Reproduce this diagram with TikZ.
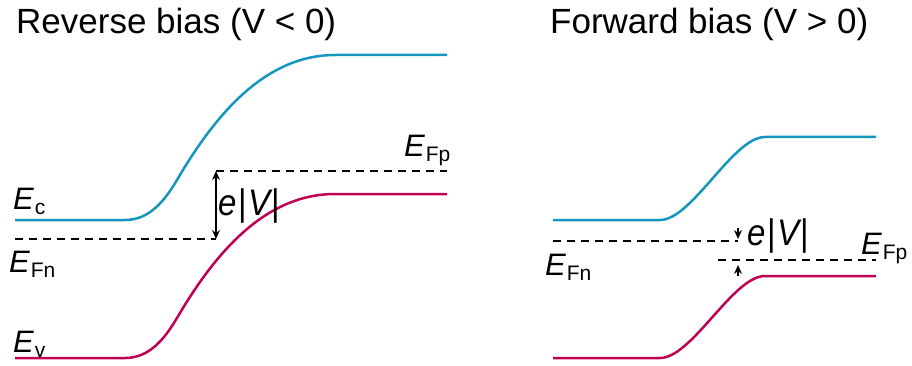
\documentclass[tikz,border=0pt]{standalone}
\usepackage{fontspec}
\setmainfont{Liberation Sans}
\usetikzlibrary{arrows.meta}
\definecolor{cband}{RGB}{20,150,190}
\definecolor{vband}{RGB}{192,0,82}
\newcommand{\lbl}[2]{{\itshape #1}\kern1pt\raisebox{-5pt}{\fontsize{21}{21}\selectfont #2}}
\newcommand{\eV}{\scalebox{1}[1.12]{{\itshape e}\kern1.5pt|\kern1.5pt{\itshape V}\kern1pt|}}
\begin{document}
\begin{tikzpicture}[x=1pt,y=-1pt,
  cline/.style={cband,line width=2.5pt},
  vline/.style={vband,line width=2.5pt},
  fermi/.style={black,line width=1.7pt,dash pattern=on 8pt off 6pt},
  txt/.style={inner sep=0pt,anchor=base west,font=\fontsize{35}{35}\selectfont},
  elbl/.style={inner sep=0pt,anchor=base west,font=\fontsize{31}{31}\selectfont},
  vlbl/.style={inner sep=0pt,anchor=base west,font=\fontsize{33}{33}\selectfont},
  darr/.style={black,line width=1.4pt,{Stealth[length=9pt,width=8pt,inset=3pt]}-{Stealth[length=9pt,width=8pt,inset=3pt]}},
  sarr/.style={black,line width=1.4pt,-{Stealth[length=9pt,width=8pt,inset=3pt]}}]
\useasboundingbox (0,0) rectangle (912,366);
% titles
\node[txt] (t1) at (16,34) {Reverse bias (V < 0)};
\node[txt] (t2) at (550,34) {Forward bias (V > 0)};
% left diagram
\coordinate (lc0) at (15,220); \coordinate (lc1) at (125,220);
\coordinate (lcm) at (177,180);
\coordinate (lc2) at (335,55); \coordinate (lc3) at (447,55);
\draw[cline] (lc0) -- (lc1) .. controls (150,220) and (165,200) .. (lcm)
  .. controls (215,115) and (265,55) .. (lc2) -- (lc3);
\coordinate (lv0) at (15,358); \coordinate (lv1) at (125,358);
\coordinate (lvm) at (177,318);
\coordinate (lv2) at (335,194); \coordinate (lv3) at (447,194);
\draw[vline] (lv0) -- (lv1) .. controls (150,358) and (165,338) .. (lvm)
  .. controls (215,253) and (265,194) .. (lv2) -- (lv3);
\coordinate (lfn0) at (15,239); \coordinate (lfn1) at (216,239);
\coordinate (lfp0) at (216,171); \coordinate (lfp1) at (447,171);
\draw[fermi] (lfn0) -- (lfn1);
\draw[fermi] (lfp0) -- (lfp1);
\draw[darr] (lfp0) -- (lfn1);
\node[elbl] (lEc) at (13,209) {\lbl{E}{c}};
\node[elbl] (lEfn) at (9,272) {\lbl{E}{Fn}};
\node[elbl] (lEv) at (13,352) {\lbl{E}{v}};
\node[elbl] (lEfp) at (404,157) {\lbl{E}{Fp}};
\node[vlbl] (lV) at (218,215) {\eV};
% right diagram
\coordinate (rc0) at (553,220); \coordinate (rc1) at (660,220);
\coordinate (rc2) at (765,137); \coordinate (rc3) at (876,137);
\draw[cline] (rc0) -- (rc1) .. controls (692,220) and (733,137) .. (rc2) -- (rc3);
\coordinate (rv0) at (553,358); \coordinate (rv1) at (660,358);
\coordinate (rv2) at (765,276); \coordinate (rv3) at (876,276);
\draw[vline] (rv0) -- (rv1) .. controls (692,358) and (733,276) .. (rv2) -- (rv3);
\coordinate (rfn0) at (553,241); \coordinate (rfn1) at (738,241);
\coordinate (rfp0) at (718,260); \coordinate (rfp1) at (876,260);
\draw[fermi] (rfn0) -- (rfn1);
\draw[fermi] (rfp0) -- (rfp1);
\coordinate (ra0) at (738,228); \coordinate (ra1) at (738,239);
\coordinate (rb0) at (738,276); \coordinate (rb1) at (738,265);
\draw[sarr] (ra0) -- (ra1);
\draw[sarr] (rb0) -- (rb1);
\node[vlbl] (rV) at (747,245) {\eV};
\node[elbl] (rEfp) at (861,254) {\lbl{E}{Fp}};
\node[elbl] (rEfn) at (545,275) {\lbl{E}{Fn}};
\end{tikzpicture}
\end{document}
